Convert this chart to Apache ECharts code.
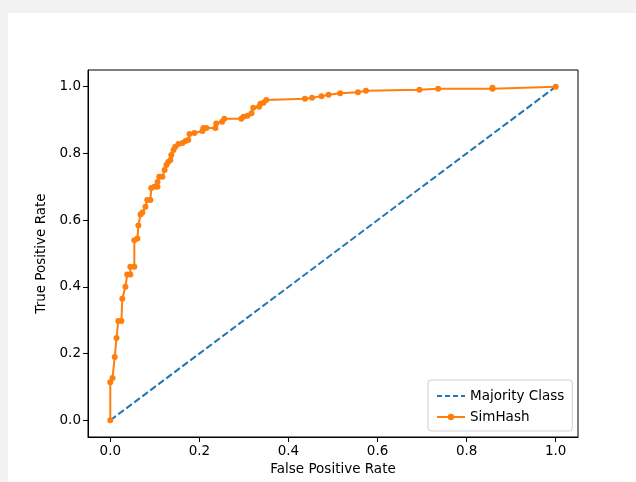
<!DOCTYPE html>
<html>
<head>
<meta charset="utf-8">
<script src="https://cdn.jsdelivr.net/npm/echarts@6/dist/echarts.min.js"></script>
<style>
html,body{margin:0;padding:0;background:#f2f2f2;width:636px;height:482px;overflow:hidden;}
#c{position:absolute;left:8px;top:13px;width:628px;height:469px;background:#fff;}
</style>
</head>
<body>
<div id="c"></div>
<script>
var tickValues = [0, 0.2, 0.4, 0.6, 0.8, 1.0];
var majorityFpr = [0, 1];
var majorityTpr = [0, 1];
var simFpr = [0,0,0.005,0.01,0.014,0.018,0.025,0.027,0.034,0.038,
  0.045,0.045,0.054,0.054,0.061,0.063,0.068,0.072,0.079,0.083,
  0.09,0.092,0.099,0.106,0.106,0.11,0.117,0.122,0.126,0.13,
  0.135,0.137,0.142,0.146,0.153,0.162,0.169,0.175,0.178,0.189,
  0.207,0.209,0.216,0.236,0.238,0.251,0.256,0.294,0.299,0.308,
  0.317,0.321,0.334,0.337,0.344,0.35,0.437,0.453,0.474,0.49,
  0.516,0.556,0.574,0.694,0.736,0.858,0.858,1.0];
var simTpr = [0,0.114,0.127,0.19,0.247,0.298,0.298,0.364,0.40,0.437,
  0.437,0.46,0.46,0.54,0.545,0.584,0.617,0.623,0.64,0.66,
  0.66,0.696,0.70,0.70,0.714,0.73,0.73,0.75,0.765,0.774,
  0.78,0.795,0.81,0.82,0.828,0.831,0.837,0.84,0.858,0.861,
  0.867,0.876,0.876,0.876,0.89,0.895,0.904,0.904,0.91,0.913,
  0.92,0.937,0.94,0.949,0.952,0.96,0.964,0.967,0.971,0.976,
  0.98,0.983,0.988,0.991,0.994,0.994,0.997,1.0];

function pairs(a, b){ return a.map(function(v,i){ return [v, b[i]]; }); }

var font = 'DejaVu Sans';
var fs = 13.5;
function axisCommon(name){
  return {
    type: 'value', min: -0.05, max: 1.05, name: name, nameLocation: 'middle',
    nameTextStyle: {fontFamily: font, fontSize: fs, color: '#000'},
    axisLine: {show: true, onZero: false, lineStyle: {color: '#000', width: 1}},
    axisTick: {show: true, inside: false, length: 5, customValues: tickValues, lineStyle: {color: '#000', width: 1}},
    axisLabel: {show: true, customValues: tickValues, fontFamily: font, fontSize: fs, color: '#000', margin: 7,
      formatter: function(v){ return v.toFixed(1); }},
    splitLine: {show: false}
  };
}
var xa = axisCommon('False Positive Rate'); xa.nameGap = 25;
var ya = axisCommon('True Positive Rate'); ya.nameGap = 34;

var chart = echarts.init(document.getElementById('c'), null, {renderer: 'canvas'});
chart.setOption({
  animation: false,
  backgroundColor: '#fff',
  grid: {left: 80, top: 57, width: 490, height: 367, show: true, borderColor: '#000', borderWidth: 1, backgroundColor: 'transparent'},
  xAxis: xa,
  yAxis: ya,
  legend: {
    orient: 'vertical', left: 420, top: 367,
    padding: [9, 8, 7, 8], itemGap: 7, itemWidth: 28, itemHeight: 8,
    borderColor: '#d0d0d0', borderWidth: 1, borderRadius: 3, backgroundColor: 'rgba(255,255,255,0.8)',
    textStyle: {fontFamily: font, fontSize: fs, color: '#000'},
    data: [
      {name: 'Majority Class', itemStyle: {opacity: 0}, lineStyle: {type: [5, 3], width: 2}},
      {name: 'SimHash'}
    ]
  },
  series: [
    {name: 'Majority Class', type: 'line', data: pairs(majorityFpr, majorityTpr), showSymbol: false, symbol: 'none',
     lineStyle: {color: '#1f77b4', width: 2, type: [7, 3]}, itemStyle: {color: '#1f77b4'}, z: 2},
    {name: 'SimHash', type: 'line', data: pairs(simFpr, simTpr), symbol: 'circle', symbolSize: 6, showAllSymbol: true,
     lineStyle: {color: '#ff7f0e', width: 2}, itemStyle: {color: '#ff7f0e'}, z: 3}
  ]
});
</script>
</body>
</html>
